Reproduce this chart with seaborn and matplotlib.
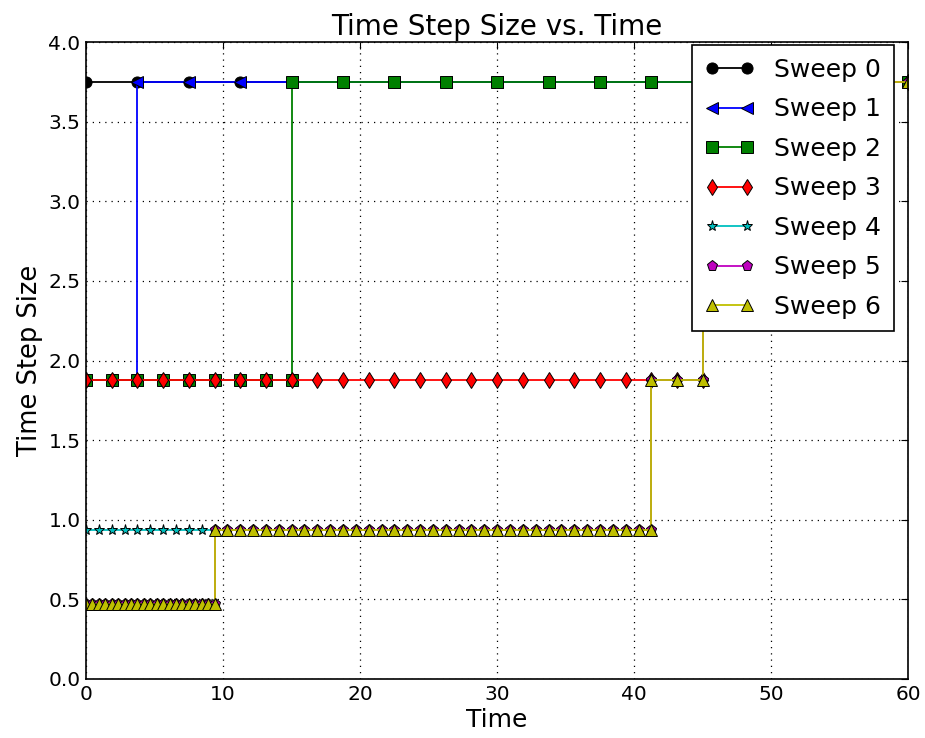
import numpy as np
import pandas as pd
import matplotlib
matplotlib.use("Agg")
import matplotlib.pyplot as plt
import seaborn as sns

# step sizes used by each sweep and how many steps of each size
sweep_names = ['Sweep 0', 'Sweep 1', 'Sweep 2', 'Sweep 3', 'Sweep 4', 'Sweep 5', 'Sweep 6']
sweep_dts = [
    [3.75],
    [1.875, 3.75],
    [1.875, 3.75],
    [1.875, 3.75],
    [0.9375, 1.875, 3.75],
    [0.46875, 0.9375, 1.875, 3.75],
    [0.46875, 0.9375, 1.875, 3.75],
]
sweep_counts = [
    [16],
    [2, 15],
    [8, 12],
    [24, 4],
    [44, 2, 4],
    [20, 34, 2, 4],
    [20, 34, 2, 4],
]
colors = ['#000000', '#0000ff', '#008000', '#ff0000', '#00bfbf', '#bf00bf', '#bfbf00']
markers = ['o', '<', 's', 'd', '*', 'p', '^']

sns.set_style("white", {"axes.edgecolor": "black", "xtick.direction": "in",
                        "ytick.direction": "in", "text.color": "black",
                        "axes.labelcolor": "black", "xtick.color": "black",
                        "ytick.color": "black"})
plt.rcParams['font.family'] = ['DejaVu Sans']


def sweep_frame(dts, counts):
    # time grid built from the step sizes; each segment keeps its end point
    t0 = 0.0
    ts, ys = [], []
    for dt, n in zip(dts, counts):
        seg = t0 + dt * np.arange(n + 1)
        ts.extend(seg)
        ys.extend([dt] * (n + 1))
        t0 = seg[-1]
    return pd.DataFrame({'Time': ts, 'Time Step Size': ys})


fig, ax = plt.subplots(figsize=(9.25, 7.38), dpi=100)
fig.subplots_adjust(left=0.093, right=0.982, bottom=0.080, top=0.943)

for name, dts, counts, c, m in zip(sweep_names, sweep_dts, sweep_counts, colors, markers):
    df = sweep_frame(dts, counts)
    sns.lineplot(data=df, x='Time', y='Time Step Size', ax=ax, estimator=None, sort=False,
                 color=c, marker=m, markersize=8, markeredgecolor='black',
                 markeredgewidth=0.7, linewidth=1.3, label=name)

ax.set_xlim(0, 60)
ax.set_ylim(0, 4.0)
ax.set_xticks(np.arange(0, 61, 10))
ax.set_yticks(np.arange(0, 4.01, 0.5))
ax.set_yticklabels([f'{v:.1f}' for v in np.arange(0, 4.01, 0.5)])
ax.grid(True, color='black', linestyle=(0, (1, 4)), linewidth=0.9)
ax.tick_params(labelsize=14.5, length=5, width=0.8, top=True, right=True,
               direction='in', pad=4, colors='black')
for s in ax.spines.values():
    s.set_linewidth(1.2)

ax.set_title('Time Step Size vs. Time', fontsize=20, color='black', pad=5)
ax.set_xlabel('Time', fontsize=18, labelpad=3)
ax.set_ylabel('Time Step Size', fontsize=18.5)

leg = ax.legend(loc='upper right', bbox_to_anchor=(0.982, 0.995), borderaxespad=0,
                numpoints=2, fontsize=18, fancybox=False, framealpha=1,
                edgecolor='black', handlelength=2.0, labelspacing=0.62,
                borderpad=0.5)
leg.get_frame().set_linewidth(1.2)
for t in leg.get_texts():
    t.set_color('black')

fig.savefig('out.png', dpi=100)
